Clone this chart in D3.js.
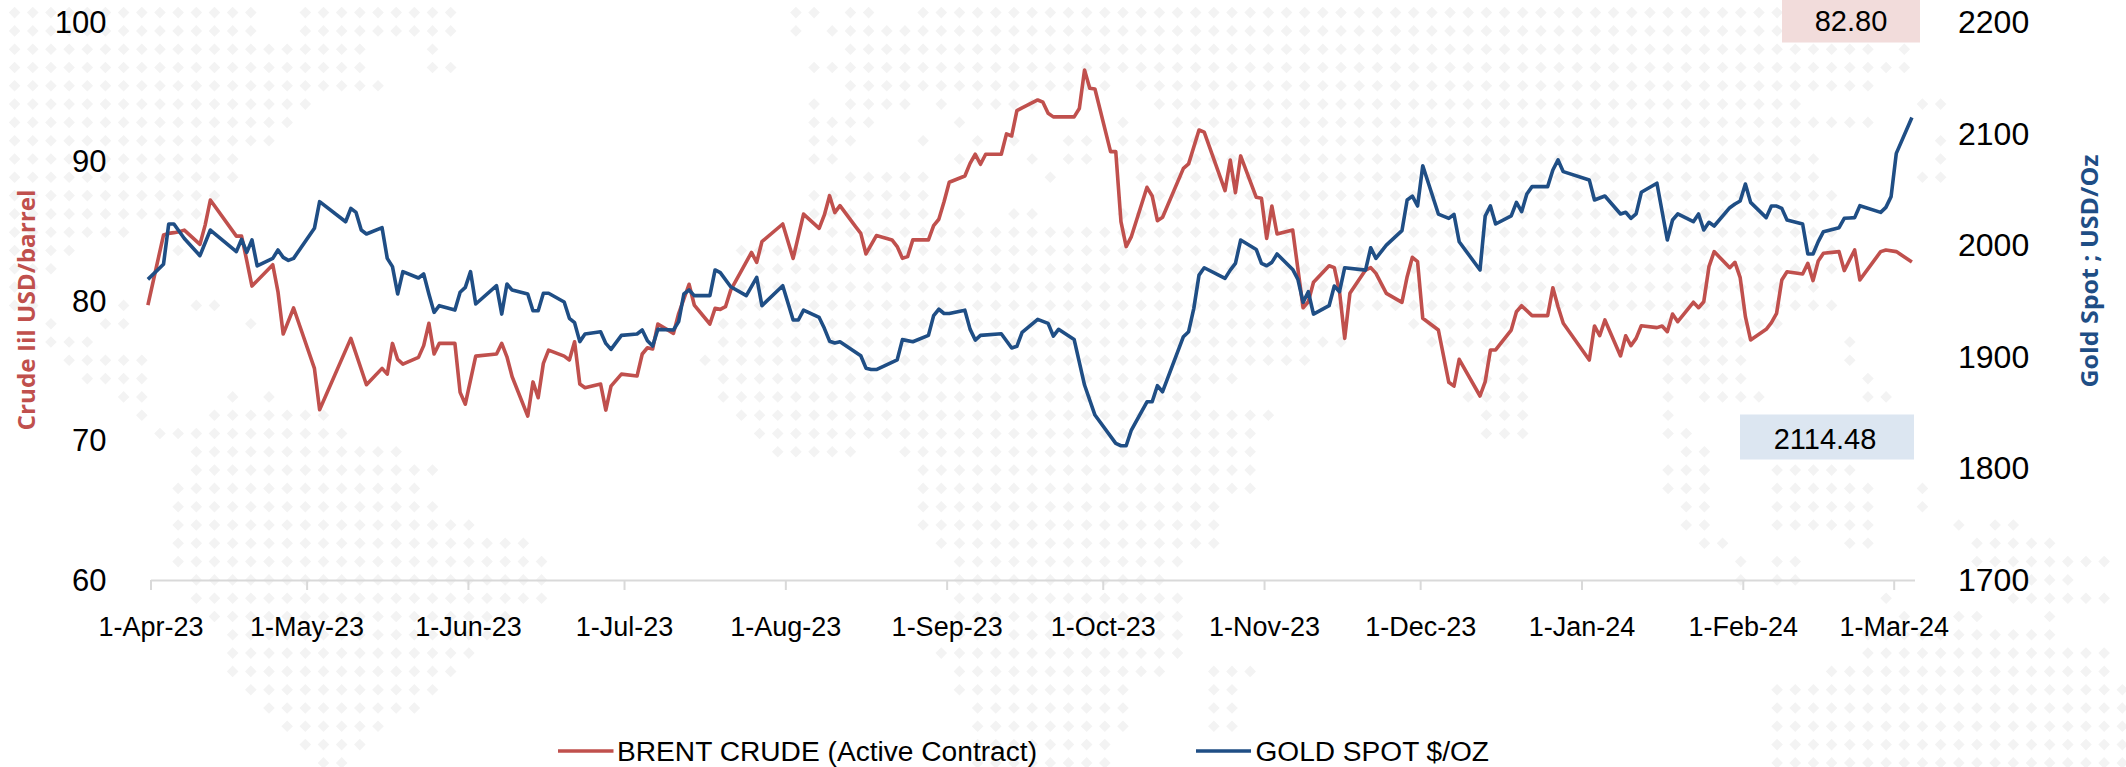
<!DOCTYPE html>
<html><head><meta charset="utf-8">
<script src="https://cdnjs.cloudflare.com/ajax/libs/d3/7.8.5/d3.min.js"></script>
<style>html,body{margin:0;padding:0;background:#fff}svg{display:block}</style></head>
<body><div id="chart"></div>
<script>
// Days are counted from 1-Apr-23; only the trading days where the line bends are listed.
const brentDays=[-1,2,3,4,5,6,9,10,11,16,17,18,19,23,24,25,27,31,32,38,41,44,45,46,47,48,51,52,53,54,55,58,59,60,62,66,67,68,69,72,73,74,75,76,79,80,81,82,83,86,87,88,90,93,94,95,96,97,100,101,103,104,107,108,109,110,111,115,116,117,121,123,125,128,129,130,131,132,135,136,137,139,142,143,144,145,146,149,150,151,152,153,156,157,158,159,160,163,164,165,166,167,170,171,172,173,177,178,179,180,181,184,185,186,187,188,191,192,193,194,198,199,201,202,206,207,208,209,212,213,214,215,216,219,221,222,223,226,227,228,229,230,233,234,235,237,240,241,242,243,244,247,249,250,251,255,256,257,258,261,262,263,265,268,269,270,271,276,277,278,279,282,283,284,285,286,289,290,291,292,293,296,297,298,299,300,303,304,305,306,307,310,311,312,313,314,317,318,319,320,321,324,325,327,328,332,333,335,338];
const brentValues=[79.7,84.73,84.85,84.9,84.97,85.08,84.06,85.44,87.24,84.65,84.65,82.9,81.07,82.6,80.66,77.63,79.5,75.17,72.2,77.32,74,75.17,74.76,76.96,75.81,75.48,75.96,76.8,78.4,76.2,76.96,76.96,73.45,72.6,76.05,76.2,76.96,76,74.57,71.75,74.2,73.07,75.53,76.48,76.05,75.77,77.08,74.05,73.78,74.05,72.18,73.9,74.76,74.62,76.2,76.65,76.56,78.35,77.68,79.1,81.2,79.71,78.35,79.47,79.4,79.59,80.78,83.48,82.77,84.25,85.52,83.05,86.23,85.21,86.17,87.55,86.34,86.84,85.33,84.85,83.37,84.69,84.38,83.9,83.06,83.18,84.38,84.38,85.4,85.86,87.12,88.51,88.96,89.87,90.52,89.8,90.52,90.52,91.98,91.83,93.65,93.85,94.41,94.25,93.46,93.2,93.2,93.8,96.56,95.25,95.2,90.71,90.71,85.69,83.9,84.62,88.15,87.53,85.76,86,89.51,89.83,92.26,92.1,87.91,90.11,87.77,90.4,87.43,87.36,84.49,86.81,84.8,85.09,79.52,79.95,81.34,82.53,82.39,80.67,77.32,80.55,82.22,82.39,81.98,80.55,79.9,81.74,83.13,82.82,78.76,77.92,74.17,73.9,75.82,73.19,74.22,76.49,76.49,77.92,79.23,79.66,78.95,78.95,80.95,79.59,78.4,75.77,78.21,77.51,78.64,76.06,77.51,76.8,77.32,78.23,78.09,78.21,77.8,79.07,78.52,79.91,79.52,79.95,82.46,83.54,82.39,82.77,81.67,78.88,77.21,77.97,78.45,79.12,81.51,82.1,81.94,82.7,81.46,82.87,83.42,83.54,82.18,83.66,81.51,83.54,83.66,83.54,82.8];
const goldDays=[-1,2,3,4,6,9,11,16,17,18,19,20,23,24,25,26,27,31,32,37,38,39,40,41,44,45,46,47,48,51,52,53,54,55,58,59,60,61,62,66,67,68,69,72,73,74,75,76,79,80,81,82,83,86,87,88,90,93,94,95,96,97,100,101,102,103,104,107,108,109,111,114,116,117,121,123,124,125,128,129,130,131,132,136,137,138,139,143,144,146,149,150,151,152,153,156,157,158,159,163,165,166,167,170,172,173,174,177,179,181,185,186,187,188,191,192,193,194,198,199,200,201,202,206,207,208,209,212,213,214,215,216,219,220,221,222,223,226,227,228,229,233,234,235,237,240,241,242,243,244,247,249,250,251,255,256,257,258,261,262,263,264,265,268,269,270,271,276,277,279,282,283,284,285,286,289,291,292,293,296,297,298,299,300,303,304,305,306,307,310,311,312,313,314,317,318,319,320,321,324,325,326,327,328,332,333,334,335,338];
const goldValues=[1969.4,1982.9,2019,2019,2006,1990.6,2013.6,1994.2,2005.3,1993.6,2004.7,1981.4,1988.2,1995.7,1989.1,1986.4,1988.2,2015.1,2039,2021,2033,2029.4,2013.6,2010,2015.7,1988.2,1980.8,1956.3,1976.3,1970.6,1974.2,1956.3,1939.8,1945.8,1941.9,1957.8,1962.2,1976.3,1947.3,1963.7,1938.3,1965.2,1959.8,1956.3,1941.3,1941.3,1956.9,1956.9,1949.1,1934.5,1930.6,1913.6,1920.4,1922.5,1912,1906.7,1919.2,1920.4,1924,1914.4,1909.7,1924.6,1924,1931.5,1956.3,1959.9,1954.8,1954.8,1977.8,1975.4,1962.8,1954.8,1971.2,1945.8,1963.7,1933,1933,1941.9,1935.3,1925.5,1914,1912.4,1913.5,1901,1889.8,1888.6,1888.6,1897.3,1915.4,1913.5,1919.2,1936.9,1942.6,1938.8,1938.8,1941.8,1924.8,1915,1919.2,1920.7,1907.9,1909.4,1921.8,1933.5,1929.9,1918.6,1924.6,1915.6,1874.7,1847.8,1822.4,1820.3,1820.3,1834.4,1859.7,1859.7,1874.1,1868.7,1918,1922.5,1943.4,1973.2,1979.8,1970.3,1977.7,1983.7,2004.6,1996.2,1983.7,1981.6,1984.6,1992.1,1978.3,1969.4,1948.8,1958.3,1938.3,1945.8,1963.4,1958.3,1979.8,1977.7,1997.7,1988.2,2000.1,2013,2040.5,2044,2035.1,2071.2,2027.9,2024,2027.6,2003.1,1977.8,2026.2,2035.2,2019,2026.2,2038.4,2030,2045.9,2052.5,2052.5,2067.4,2076.4,2065.9,2058.5,2040.5,2044.1,2028,2029.5,2024.1,2028,2047.4,2055.5,2004.7,2022.6,2028,2021.1,2028,2013.6,2020.5,2017.2,2033.6,2036.9,2039.6,2054.8,2038.4,2024.7,2035.1,2035.1,2033,2022.6,2019,1992.1,1992.1,2003.2,2012.1,2015.7,2024.1,2024.4,2024.7,2035.4,2029.4,2033.9,2043.5,2082.3,2114.48];
const brentTicks=[60,70,80,90,100];
const goldTicks=[1700,1800,1900,2000,2100,2200];
const monthTicks=[[2023,3],[2023,4],[2023,5],[2023,6],[2023,7],[2023,8],[2023,9],[2023,10],[2023,11],[2024,0],[2024,1],[2024,2]];
const seriesNames=["BRENT CRUDE (Active Contract)","GOLD SPOT $/OZ"];
const lastBrentLabel="82.80", lastGoldLabel="2114.48";
// Decorative dotted world map: for each row, the runs of occupied columns.
const mapRows=[
[[0,13],[16,24],[43,44],[46,47],[50,104]],
[[0,13],[16,24],[43,43],[45,104]],
[[0,19],[23,23],[46,102],[104,104]],
[[0,19],[23,24],[44,104]],
[[0,20],[46,60],[62,102]],
[[0,16],[44,44],[46,49],[51,51],[53,56],[63,98],[105,106]],
[[0,15],[44,47],[52,52],[61,61],[64,102]],
[[0,14],[44,46],[50,50],[53,53],[55,55],[58,59],[61,98],[106,106]],
[[0,12],[44,45],[52,53],[56,56],[58,59],[61,99],[106,106]],
[[0,12],[46,50],[57,57],[62,99],[105,106]],
[[0,11],[44,50],[63,100]],
[[0,10],[44,50],[52,52],[55,56],[61,100]],
[[0,6],[45,100]],
[[0,3],[9,9],[40,100]],
[[0,2],[41,100]],
[[0,1],[40,99]],
[[0,1],[6,6],[10,11],[40,100]],
[[2,2],[5,6],[13,13],[39,71],[77,83],[91,97]],
[[2,4],[39,73],[78,83],[91,95],[101,101]],
[[3,7],[38,71],[81,83],[91,95],[101,101]],
[[4,7],[39,67],[81,83],[91,95],[102,102]],
[[6,7],[12,12],[14,14],[39,65],[80,83],[91,91],[93,96],[102,103]],
[[7,7],[11,17],[40,69],[81,83],[91,91]],
[[8,18],[41,68],[81,83],[91,92]],
[[10,21],[42,46],[49,68],[92,93]],
[[10,23],[50,68],[91,93],[97,101]],
[[9,22],[50,68],[91,93],[97,102],[105,105]],
[[9,23],[50,66],[92,93],[97,102],[105,105]],
[[9,25],[50,66],[92,93],[97,102],[107,107],[109,110]],
[[9,28],[51,66],[93,94],[101,102],[108,112]],
[[9,29],[52,64],[95,95],[97,98],[108,115]],
[[10,29],[52,63],[95,95],[97,98],[110,113]],
[[10,29],[52,64],[103,103],[110,115]],
[[11,27],[52,64],[104,104],[107,108],[112,112]],
[[12,26],[52,64],[102,112]],
[[12,25],[51,64],[102,115]],
[[12,24],[52,63],[66,68],[100,115]],
[[13,23],[52,61],[66,67],[97,116]],
[[14,22],[53,61],[66,67],[97,116]],
[[15,20],[53,61],[66,67],[97,116]],
[[16,19],[53,60],[97,116]],
[[17,18],[53,60],[97,116]]
];

const W=2126,H=767;
const RED="#c0504d",BLUE="#1f4e85",AXIS="#d9d9d9",DOT="#f3f3f3";
const FONT="'Liberation Sans',Arial,Helvetica,sans-serif";
const TITLE="'Open Sans','Noto Sans',sans-serif";
const svg=d3.select("#chart").append("svg").attr("width",W).attr("height",H).attr("viewBox",[0,0,W,H]);

const dayDate=d=>new Date(Date.UTC(2023,3,1+d));
const x=d3.scaleUtc().domain([dayDate(0),dayDate(339)]).range([150.5,1914.5]);
const halfDay=(x(dayDate(1))-x(dayDate(0)))/2;
const yL=d3.scaleLinear().domain([60,100]).range([580,22]);
const yR=d3.scaleLinear().domain([1700,2200]).range([580,22]);

// background map
const colX=d3.scaleLinear().domain([0,1]).range([14.6,32.77]);
const rowY=d3.scaleLinear().domain([0,1]).range([12.6,30.9]);
const dots=mapRows.flatMap((runs,r)=>runs.flatMap(([a,b])=>d3.range(a,b+1).map(c=>[colX(c),rowY(r)])));
svg.append("g").selectAll("path").data(dots).join("path")
  .attr("d",d=>`M${d[0]},${d[1]-5.8}L${d[0]+5.8},${d[1]}L${d[0]},${d[1]+5.8}L${d[0]-5.8},${d[1]}Z`)
  .attr("fill",DOT);

// value boxes
svg.append("rect").attr("x",1782).attr("y",0).attr("width",138).attr("height",42.5).attr("fill","#f2dcdb");
svg.append("rect").attr("x",1740).attr("y",414.5).attr("width",174).attr("height",45).attr("fill","#dce6f1");
svg.append("text").attr("x",1851).attr("y",21).attr("dy","0.36em").attr("text-anchor","middle").attr("font-family",FONT).attr("font-size",29).attr("fill","#000").text(lastBrentLabel);
svg.append("text").attr("x",1825).attr("y",439).attr("dy","0.36em").attr("text-anchor","middle").attr("font-family",FONT).attr("font-size",29).attr("fill","#000").text(lastGoldLabel);

// x axis
const xAxis=d3.axisBottom(x)
  .tickValues(monthTicks.map(([y,m])=>new Date(Date.UTC(y,m,1))))
  .tickFormat(d3.utcFormat("%-d-%b-%y")).tickSizeInner(10).tickSizeOuter(0).tickPadding(27);
const gx=svg.append("g").attr("transform","translate(0,580)").call(xAxis);
gx.selectAll("path,line").attr("stroke",AXIS).attr("stroke-width",2);
gx.selectAll("text").attr("font-family",FONT).attr("font-size",27).attr("fill","#000");

// y axes
const gl=svg.append("g").attr("transform","translate(150.5,0)").call(d3.axisLeft(yL).tickValues(brentTicks).tickSize(0).tickPadding(44));
gl.select(".domain").remove();
gl.selectAll("text").attr("font-family",FONT).attr("font-size",31).attr("fill","#000").attr("dy","0.33em");
const gr=svg.append("g").attr("transform","translate(1914.5,0)").call(d3.axisRight(yR).tickValues(goldTicks).tickFormat(d3.format("d")).tickSize(0).tickPadding(43.5));
gr.select(".domain").remove();
gr.selectAll("text").attr("font-family",FONT).attr("font-size",32).attr("fill","#000").attr("dy","0.33em");

// axis titles
svg.append("text").attr("transform","translate(35,310) rotate(-90)").attr("text-anchor","middle")
  .attr("font-family",TITLE).attr("font-weight",700).attr("font-size",23).attr("fill",RED)
  .attr("textLength",241).attr("lengthAdjust","spacingAndGlyphs").text("Crude Iil USD/barrel");
svg.append("text").attr("transform","translate(2098,271) rotate(-90)").attr("text-anchor","middle")
  .attr("font-family",TITLE).attr("font-weight",700).attr("font-size",23).attr("fill",BLUE)
  .attr("textLength",233).attr("lengthAdjust","spacingAndGlyphs").text("Gold Spot ; USD/Oz");

// lines
const line=(days,vals,y)=>d3.line().x(i=>x(dayDate(days[i]))+halfDay).y(i=>y(vals[i])).curve(d3.curveLinear)(d3.range(days.length));
svg.append("path").attr("d",line(brentDays,brentValues,yL)).attr("fill","none").attr("stroke",RED).attr("stroke-width",3.6).attr("stroke-linejoin","round");
svg.append("path").attr("d",line(goldDays,goldValues,yR)).attr("fill","none").attr("stroke",BLUE).attr("stroke-width",3.6).attr("stroke-linejoin","round");

// legend
const legend=[{name:seriesNames[0],c:RED,x1:558,x2:613.5,t:617,w:420},{name:seriesNames[1],c:BLUE,x1:1196,x2:1251,t:1255.5,w:233.5}];
legend.forEach(l=>{
  svg.append("line").attr("x1",l.x1).attr("x2",l.x2).attr("y1",751).attr("y2",751).attr("stroke",l.c).attr("stroke-width",3.6);
  svg.append("text").attr("x",l.t).attr("y",751).attr("dy","0.36em").attr("font-family",FONT).attr("font-size",27)
    .attr("textLength",l.w).attr("lengthAdjust","spacingAndGlyphs").attr("fill","#000").text(l.name);
});
</script></body></html>
